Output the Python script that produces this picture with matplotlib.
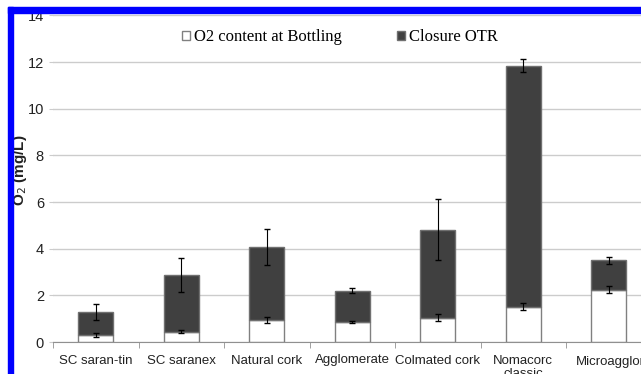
import numpy as np
import matplotlib
matplotlib.use('Agg')
import matplotlib.pyplot as plt
from matplotlib.patches import Rectangle

# closures and oxygen values (mg/L)
closures = ['SC saran-tin', 'SC saranex', 'Natural cork', 'Agglomerate',
            'Colmated cork', 'Nomacorc\nclassic', 'Microagglomerate']
o2_bottling = [0.30, 0.45, 0.95, 0.85, 1.05, 1.52, 2.25]
o2_bottling_err = [0.07, 0.05, 0.14, 0.04, 0.15, 0.14, 0.13]
closure_otr = [1.00, 2.41, 3.12, 1.35, 3.77, 10.32, 1.25]
closure_otr_err = [0.35, 0.72, 0.78, 0.12, 1.30, 0.27, 0.14]

W, H = 641, 374
fig = plt.figure(figsize=(W / 100, H / 100), dpi=100)
# axes run past the right edge of the figure
ax = fig.add_axes([53 / W, 32 / H, 7 * 85.5 / W, (342 - 15.4) / H])

x = np.arange(len(closures))
bw = 0.41
ax.bar(x, o2_bottling, bw, color='white', edgecolor='#808080', linewidth=1.0,
       label='O2 content at Bottling', zorder=2)
ax.bar(x, closure_otr, bw, bottom=o2_bottling, color='#404040', edgecolor='#707070',
       linewidth=1.0, label='Closure OTR', zorder=2)
ax.errorbar(x, o2_bottling, yerr=o2_bottling_err, fmt='none', ecolor='black',
            elinewidth=0.8, capsize=2, zorder=3)
tops = np.array(o2_bottling) + np.array(closure_otr)
ax.errorbar(x, tops, yerr=closure_otr_err, fmt='none', ecolor='black',
            elinewidth=0.8, capsize=2, zorder=3)

ax.set_xlim(-0.5, len(closures) - 0.5)
ax.set_ylim(0, 14)
ax.set_yticks(range(0, 15, 2))
ax.yaxis.grid(True, color='#cccccc', linewidth=1.0, zorder=0)
ax.set_axisbelow(True)

# last label is long, so it is drawn separately and starts left of its bar
ax.set_xticks(x)
ax.set_xticklabels(closures[:-1] + [''], fontsize=9.5, family='Liberation Sans',
                   color='#222222')
ax.annotate(closures[-1], xy=(x[-1], 0), xycoords=('data', 'axes fraction'),
            xytext=(-24, -9.8), textcoords='offset points', ha='left', va='top',
            fontsize=9.5, family='Liberation Sans', color='#222222',
            annotation_clip=False)
ax.set_xticks(np.arange(len(closures) + 1) - 0.5, minor=True)
ax.tick_params(axis='x', which='major', length=0, pad=9)
ax.tick_params(axis='x', which='minor', length=4, color='#909090', direction='out')
ax.tick_params(axis='y', length=3, color='#cccccc', labelsize=10.5, labelcolor='#222222')
for lab in ax.get_yticklabels():
    lab.set_family('Liberation Sans')

for s in ['top', 'right', 'left']:
    ax.spines[s].set_visible(False)
ax.spines['bottom'].set_color('#909090')

fig.text(20 / W, 1 - 170 / H, 'O$_2$ (mg/L)', rotation=90, ha='center', va='center',
         fontsize=11, fontweight='bold', family='Liberation Sans', color='#222222')

leg = ax.legend(loc='center', bbox_to_anchor=(340 / W, 1 - 37 / H),
                bbox_transform=fig.transFigure, ncol=2, frameon=False,
                handlelength=0.45, handleheight=0.45, handletextpad=0.25,
                columnspacing=3.3, borderpad=0,
                prop={'family': 'Liberation Serif', 'size': 12})

# blue frame along the top and left
fig.patches.append(Rectangle((8 / W, 0), 5 / W, 1 - 7 / H, transform=fig.transFigure,
                             color='#0000ff', zorder=10))
fig.patches.append(Rectangle((8 / W, 1 - 13 / H), 1, 6 / H, transform=fig.transFigure,
                             color='#0000ff', zorder=10))

fig.savefig('out.png', dpi=100)
